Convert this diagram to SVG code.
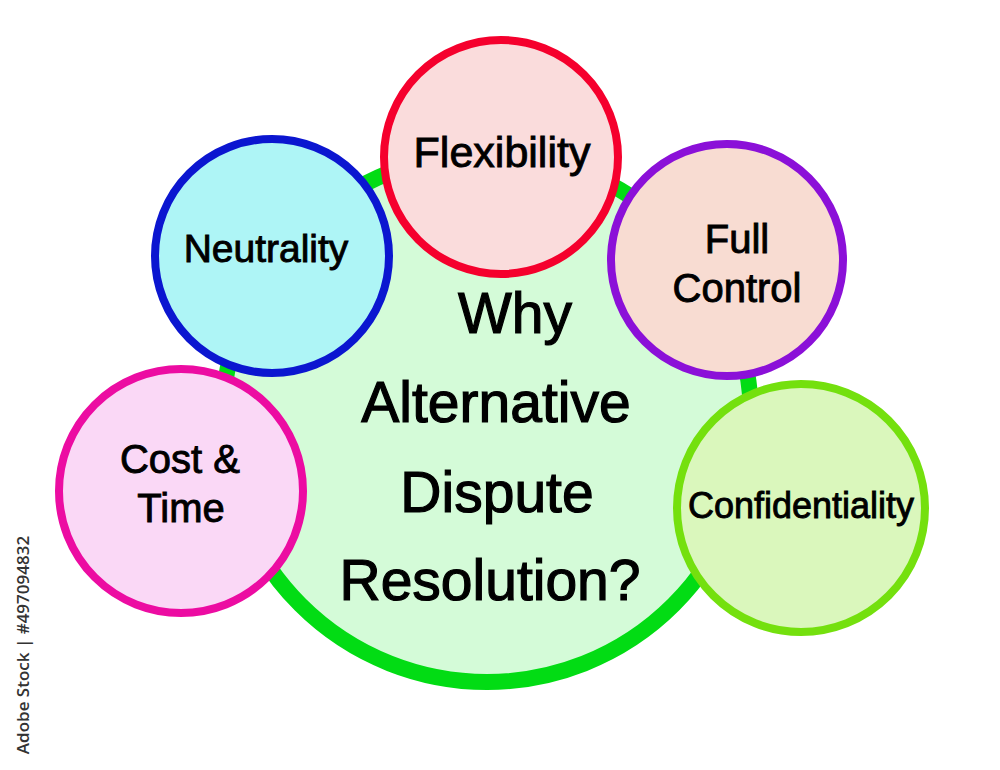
<svg xmlns="http://www.w3.org/2000/svg" width="1000" height="770" viewBox="0 0 1000 770">
<style>
  .t { font-family: "Liberation Sans", Arial, sans-serif; fill: #000; stroke: #000; stroke-width: 0.9; text-anchor: middle; }
  .big { stroke-width: 1.2; }
  .ring { stroke-width: 8; }
</style>
<rect width="1000" height="770" fill="#ffffff"/>
<g id="connectors"></g>
<g id="center">
  <circle cx="487" cy="418" r="264" fill="#d4fbd8" stroke="#02dc14" stroke-width="16"/>
  <text class="t big" font-size="57" x="515" y="333">Why</text>
  <text class="t big" font-size="57" x="496" y="422">Alternative</text>
  <text class="t big" font-size="57" x="497" y="512">Dispute</text>
  <text class="t big" font-size="57" x="490" y="600">Resolution?</text>
</g>
<g id="neutrality">
  <circle class="ring" cx="272" cy="256" r="117" fill="#aef5f6" stroke="#0b16d0"/>
  <text class="t" font-size="39" x="266" y="262">Neutrality</text>
</g>
<g id="flexibility">
  <circle class="ring" cx="501" cy="157" r="117" fill="#fadcdc" stroke="#f5002d"/>
  <text class="t" font-size="43" x="502" y="167">Flexibility</text>
</g>
<g id="full-control">
  <circle class="ring" cx="727" cy="260" r="116" fill="#f8dcd2" stroke="#8b10d8"/>
  <text class="t" font-size="40" x="737" y="253">Full</text>
  <text class="t" font-size="40" x="737" y="302">Control</text>
</g>
<g id="cost-time">
  <circle class="ring" cx="181" cy="491" r="122" fill="#fad8f6" stroke="#ec0ca2"/>
  <text class="t" font-size="40" x="180" y="473">Cost &amp;</text>
  <text class="t" font-size="40" x="181" y="522">Time</text>
</g>
<g id="confidentiality">
  <circle class="ring" cx="801" cy="508" r="124" fill="#daf7bc" stroke="#74e00e"/>
  <text class="t" font-size="36" x="801" y="518">Confidentiality</text>
</g>
<text font-family="'Open Sans', 'DejaVu Sans', sans-serif" font-size="17" font-weight="600" fill="#333" text-anchor="middle" transform="translate(29 645) rotate(-90)">Adobe Stock | #497094832</text>
</svg>
